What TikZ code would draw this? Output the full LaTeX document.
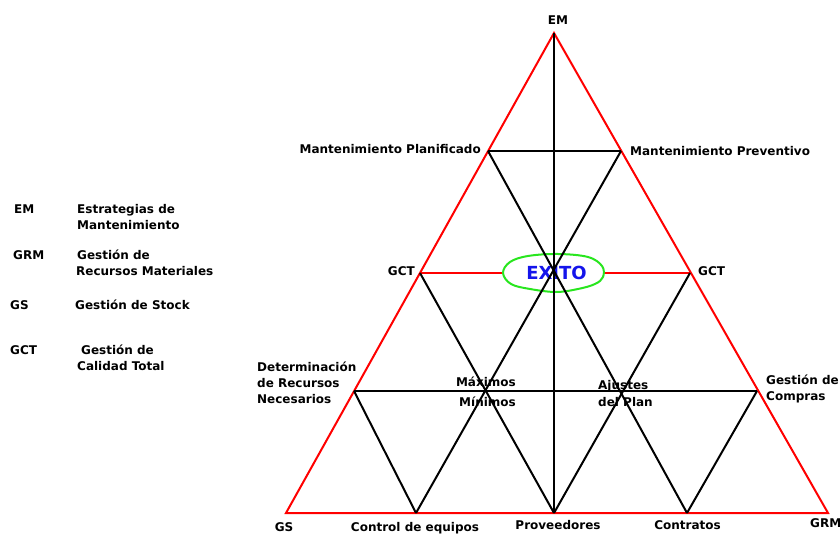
\documentclass[tikz,border=0pt]{standalone}
\usepackage{fontspec}
\setmainfont{DejaVu Sans}
\definecolor{exitoblue}{RGB}{20,20,235}
\definecolor{cloudgreen}{RGB}{40,230,30}
\begin{document}
\begin{tikzpicture}[x=1pt,y=-1pt,
  redline/.style={draw=red,line width=2pt},
  gridline/.style={draw=black,line width=2pt},
  lbl/.style={font=\bfseries\fontsize{12}{16}\selectfont,inner sep=0pt,text=black},
  cloudshape/.style={draw=cloudgreen,line width=2pt,fill=white},
  exito/.style={font=\bfseries\fontsize{18}{20}\selectfont,text=exitoblue,inner sep=0pt}]

\fill[white] (0,0) rectangle (840,534);
\useasboundingbox (0,0) rectangle (840,534);

% vertices of the triangle and its grid points
\coordinate (A)  at (554,33);
\coordinate (Bl) at (286,513);
\coordinate (Br) at (828,513);
\coordinate (L1) at (488,151);
\coordinate (R1) at (621,151);
\coordinate (L2) at (420,273);
\coordinate (R2) at (690,273);
\coordinate (L3) at (354,391);
\coordinate (R3) at (757,391);
\coordinate (B1) at (416,513);
\coordinate (B2) at (554,513);
\coordinate (B3) at (687,513);

% outer triangle and middle level
\draw[redline,line join=miter] (A) -- (Bl) -- (Br) -- cycle;
\draw[redline] (L2) -- (R2);

% central cloud with the goal
\draw[cloudshape] plot[smooth cycle,tension=0.6] coordinates {
  (503,273) (510,262) (528,256) (558,254) (588,257) (602,266)
  (603,277) (595,284) (578,289) (556,292) (530,289) (511,284)};
\node[exito] (exito) at (556.5,273) {EXITO};

% inner grid
\draw[gridline] (L1) -- (R1);
\draw[gridline] (L3) -- (R3);
\draw[gridline] (A) -- (B2);
\draw[gridline] (L1) -- (B3);
\draw[gridline] (L2) -- (B2);
\draw[gridline] (L3) -- (B1);
\draw[gridline] (R1) -- (B1);
\draw[gridline] (R2) -- (B2);
\draw[gridline] (R3) -- (B3);

% labels around the triangle
\node[lbl,anchor=base] (em) at (558,24.5) {EM};
\node[lbl,anchor=base east] (mplan) at (481,153.5) {Mantenimiento Planificado};
\node[lbl,anchor=base west] (mprev) at (630,155.5) {Mantenimiento Preventivo};
\node[lbl,anchor=base east] (gctl) at (415,275.5) {GCT};
\node[lbl,anchor=base west] (gctr) at (698,275.5) {GCT};
\node[lbl,anchor=west,align=left] (drn) at (257,383) {Determinación\\de Recursos\\Necesarios};
\node[lbl,anchor=west,align=left] (gcomp) at (766,389) {Gestión de\\Compras};
\node[lbl,anchor=base east] (max) at (516,386.5) {Máximos};
\node[lbl,anchor=base east] (min) at (516,406.5) {Mínimos};
\node[lbl,anchor=west,align=left,font=\bfseries\fontsize{12}{17}\selectfont] (ajus) at (598,394) {Ajustes\\del Plan};
\node[lbl,anchor=base] (gs) at (284,531) {GS};
\node[lbl,anchor=base] (ctrl) at (415,531) {Control de equipos};
\node[lbl,anchor=base] (prov) at (558,529.5) {Proveedores};
\node[lbl,anchor=base] (contr) at (687.5,529.5) {Contratos};
\node[lbl,anchor=base west] (grm) at (810,527.5) {GRM};

% legend
\node[lbl,anchor=base west] (kem) at (14,214) {EM};
\node[lbl,anchor=base west] (dem1) at (77,214) {Estrategias de};
\node[lbl,anchor=base west] (dem2) at (77,230) {Mantenimiento};
\node[lbl,anchor=base west] (kgrm) at (13,260) {GRM};
\node[lbl,anchor=base west] (dgrm1) at (77,260) {Gestión de};
\node[lbl,anchor=base west] (dgrm2) at (76,276) {Recursos Materiales};
\node[lbl,anchor=base west] (kgs) at (10,310) {GS};
\node[lbl,anchor=base west] (dgs) at (75,310) {Gestión de Stock};
\node[lbl,anchor=base west] (kgct) at (10,354) {GCT};
\node[lbl,anchor=base west] (dgct1) at (81,354) {Gestión de};
\node[lbl,anchor=base west] (dgct2) at (77,370) {Calidad Total};
\end{tikzpicture}
\end{document}
